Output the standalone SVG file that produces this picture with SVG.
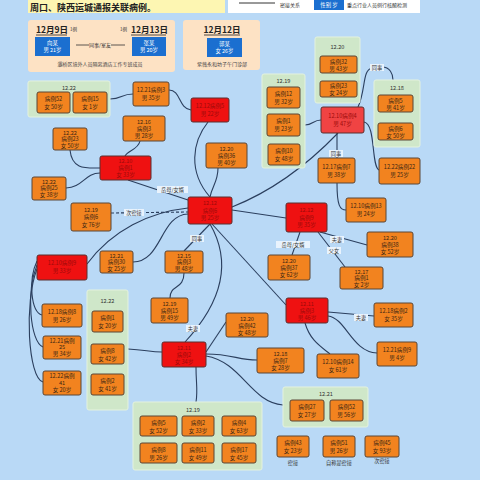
<svg xmlns="http://www.w3.org/2000/svg" width="480" height="480" viewBox="0 0 480 480">
<style>
text{font-family:"Noto Sans CJK SC","Noto Sans",sans-serif;}
.o{fill:#f2831f;stroke:#5b4636;stroke-width:1;}
.r{fill:#ef1111;stroke:#5b3030;stroke-width:1;}
.g{fill:#cfe7c9;stroke:#e4f2de;stroke-width:1;}
.b{fill:#1b6fd0;}
.t{font-size:5.6px;fill:#3a2614;text-anchor:middle;}
.tr{font-size:5.6px;fill:#9c0a0a;text-anchor:middle;}
.tw{font-size:5.4px;fill:#ffffff;text-anchor:middle;}
.gl{font-size:5.6px;fill:#333;text-anchor:middle;}
.e{fill:none;stroke:#2b3f5e;stroke-width:1.1;}
.lb{fill:#e9f3fd;}
.lt{font-size:5.2px;fill:#333;text-anchor:middle;}
.cap{font-size:5px;fill:#444;text-anchor:middle;}
.h{font-size:8.5px;font-weight:bold;fill:#222;}
</style>
<rect width="480" height="480" fill="#b9d9f6"/>
<!-- header -->
<g id="banner"><rect x="28" y="-3" width="197" height="16" fill="#fdf6b2"/><text x="30" y="10.5" style="font-size:9px;font-weight:bold;fill:#222">周口、陕西运城通报关联病例。</text></g>
<g id="legend"><rect x="228" y="-3" width="192" height="16" fill="#ffffff"/><line x1="239" y1="3" x2="275" y2="3" stroke="#333" stroke-width="1"/><text x="280" y="7" style="font-size:5px;fill:#333">密接关系</text><rect x="314" y="-3" width="30" height="13" class="b"/><text x="329" y="7" class="tw">性别 岁</text><text x="347" y="7" style="font-size:5px;fill:#333">重点行业人员例行核酸检测</text></g>
<g id="panel1"><rect x="28" y="20" width="147" height="52" rx="3" fill="#fde2c4"/>
<text x="36" y="33" class="h">12月9日</text><line x1="36" y1="35" x2="67" y2="35" stroke="#222" stroke-width="0.8"/><text x="70" y="31" style="font-size:4.5px;fill:#333">1例</text>
<text x="120" y="31" style="font-size:4.5px;fill:#333">1例</text><text x="131" y="33" class="h">12月13日</text><line x1="131" y1="35" x2="166" y2="35" stroke="#222" stroke-width="0.8"/>
<rect x="35" y="37" width="35" height="19" class="b"/><text x="52.5" y="45" class="tw">向某</text><text x="52.5" y="52" class="tw">男 21岁</text>
<rect x="132" y="37" width="34" height="19" class="b"/><text x="149" y="45" class="tw">张某</text><text x="149" y="52" class="tw">男 20岁</text>
<line x1="76" y1="45" x2="89" y2="45" stroke="#333" stroke-width="0.8"/><text x="100" y="47" class="lt" style="font-size:5px">同事/室友</text><line x1="111" y1="45" x2="125" y2="45" stroke="#333" stroke-width="0.8"/>
<text x="100" y="66" class="cap">灞桥区境外人员隔离酒店工作专班成员</text></g>
<g id="panel2"><rect x="183" y="20" width="77" height="50" rx="3" fill="#fde2c4"/>
<text x="222" y="33" class="h" text-anchor="middle">12月12日</text><line x1="204" y1="35" x2="240" y2="35" stroke="#222" stroke-width="0.8"/>
<rect x="207" y="38" width="35" height="19" class="b"/><text x="224.5" y="46" class="tw">郭某</text><text x="224.5" y="53" class="tw">女 26岁</text>
<text x="222" y="66" class="cap">紫薇永和坊子午门诊部</text></g>

<g id="edges">
<path class="e" d="M110,99 C122,99 121,94 133,94"/>
<path class="e" d="M169,90 C181,90 178,108 191,110"/>
<path class="e" d="M140,141 C138,150 128,150 125,156"/>
<path class="e" d="M70,150 C72,170 86,168 100,168"/>
<path class="e" d="M66,188 C82,188 85,173 100,173"/>
<path class="e" d="M208,122 C192,142 188,172 210,197"/>
<path class="e" d="M218,168 C218,182 212,186 210,197"/>
<path class="e" d="M128,180 L188,200"/>
<path class="e" d="M111,213 L188,212" stroke-dasharray="3,2"/>
<path class="e" d="M87,264 C112,230 150,212 188,208"/>
<path class="e" d="M133,262 C162,262 160,215 188,214"/>
<path class="e" d="M210,224 L184,251"/>
<path class="e" d="M210,224 C232,262 222,302 185,342"/>
<path class="e" d="M212,224 L286,305"/>
<path class="e" d="M232,210 L286,218"/>
<path class="e" d="M232,207 C275,190 312,160 338,133"/>
<path class="e" d="M305,125 C313,125 313,120 321,120"/>
<path class="e" d="M337,133 L337,158"/>
<path class="e" d="M337,183 C337,206 340,210 346,210"/>
<path class="e" d="M364,122 C376,124 371,166 379,170"/>
<path class="e" d="M358,107 C366,90 362,70 372,68"/>
<path class="e" d="M382,67 C390,67 393,74 393,80"/>
<path class="e" d="M320,232 L367,245"/>
<path class="e" d="M318,232 L345,267"/>
<path class="e" d="M300,232 L292,255"/>
<path class="e" d="M184,273 C184,290 170,284 170,298"/>
<path class="e" d="M206,352 L226,322"/>
<path class="e" d="M206,354 C232,354 238,360 257,360"/>
<path class="e" d="M206,356 C242,362 250,402 283,405"/>
<path class="e" d="M196,367 C196,384 198,390 196,402"/>
<path class="e" d="M128,349 C146,350 150,352 162,352"/>
<path class="e" d="M37,261 C28,280 31,312 42,315"/>
<path class="e" d="M37,265 C26,292 30,342 43,347"/>
<path class="e" d="M37,269 C24,302 28,378 43,382"/>
<path class="e" d="M305,323 C310,340 320,346 330,354"/>
<path class="e" d="M328,312 L374,316"/>
<path class="e" d="M328,316 C346,318 352,352 377,353"/>
<g id="edge-labels">
<rect x="157" y="186" width="31" height="7" class="lb"/><text x="172.5" y="191.5" class="lt">岳母/女婿</text>
<rect x="124" y="209" width="20" height="7" class="lb"/><text x="134" y="214.5" class="lt">次密接</text>
<rect x="190" y="235" width="14" height="7" class="lb"/><text x="197" y="240.5" class="lt">同事</text>
<rect x="186" y="325" width="14" height="7" class="lb"/><text x="193" y="330.5" class="lt">夫妻</text>
<rect x="329" y="150" width="14" height="7" class="lb"/><text x="336" y="155.5" class="lt">同事</text>
<rect x="370" y="64" width="14" height="7" class="lb"/><text x="377" y="69.5" class="lt">同事</text>
<rect x="276" y="241" width="34" height="7" class="lb"/><text x="293" y="246.5" class="lt">岳母/女婿</text>
<rect x="330" y="236" width="14" height="7" class="lb"/><text x="337" y="241.5" class="lt">夫妻</text>
<rect x="327" y="247" width="14" height="7" class="lb"/><text x="334" y="252.5" class="lt">父女</text>
<rect x="354" y="314" width="14" height="7" class="lb"/><text x="361" y="319.5" class="lt">夫妻</text>
</g>
</g>

<g id="g1222a"><rect x="28" y="81" width="82" height="36" rx="2" class="g"/><text x="69" y="90" class="gl">12.22</text>
<rect x="37" y="92" width="33" height="21" rx="2" class="o"/><text x="53.5" y="101" class="t">病例52</text><text x="53.5" y="109" class="t">女 50岁</text>
<rect x="73" y="92" width="34" height="21" rx="2" class="o"/><text x="90" y="101" class="t">病例15</text><text x="90" y="109" class="t">女 1岁</text></g>
<g id="n1221c3"><rect x="133" y="82" width="36" height="24" rx="2" class="o"/><text x="151" y="92" class="t">12.21病例3</text><text x="151" y="100" class="t">男 35岁</text></g>
<g id="n1222c23"><rect x="53" y="128" width="34" height="22" rx="2" class="o"/><text x="70" y="134.5" class="t">12.22</text><text x="70" y="141" class="t">病例23</text><text x="70" y="147.5" class="t">女 50岁</text></g>
<g id="n1216c3"><rect x="123" y="116" width="42" height="25" rx="2" class="o"/><text x="144" y="123.5" class="t">12.16</text><text x="144" y="130.5" class="t">病例3</text><text x="144" y="137.5" class="t">男 28岁</text></g>
<g id="rlu"><rect x="100" y="156" width="51" height="24" rx="2" class="r"/><text x="125.5" y="163" class="tr">12.10</text><text x="125.5" y="170" class="tr">病例1</text><text x="125.5" y="177" class="tr">女 33岁</text></g>
<g id="rtop"><rect x="191" y="98" width="38" height="24" rx="2" class="r"/><text x="210" y="108" class="tr">12.12病例5</text><text x="210" y="116" class="tr">男 22岁</text></g>
<g id="n1220c36"><rect x="206" y="143" width="41" height="25" rx="2" class="o"/><text x="226.5" y="150.5" class="t">12.20</text><text x="226.5" y="157.5" class="t">病例36</text><text x="226.5" y="164.5" class="t">男 40岁</text></g>
<g id="g1219a"><rect x="262" y="74" width="43" height="94" rx="2" class="g"/><text x="283.5" y="83" class="gl">12.19</text>
<rect x="267" y="87" width="33" height="21" rx="2" class="o"/><text x="283.5" y="96" class="t">病例12</text><text x="283.5" y="104" class="t">男 32岁</text>
<rect x="267" y="114" width="33" height="22" rx="2" class="o"/><text x="283.5" y="123" class="t">病例1</text><text x="283.5" y="131" class="t">男 23岁</text>
<rect x="268" y="144" width="32" height="21" rx="2" class="o"/><text x="284" y="153" class="t">病例10</text><text x="284" y="161" class="t">女 48岁</text></g>
<g id="g1220"><rect x="315" y="37" width="45" height="66" rx="2" class="g"/><text x="337.5" y="49" class="gl">12.20</text>
<rect x="320" y="56" width="37" height="17" rx="2" class="o"/><text x="338.5" y="63.5" class="t">病例32</text><text x="338.5" y="70.5" class="t">男 43岁</text>
<rect x="320" y="81" width="37" height="16" rx="2" class="o"/><text x="338.5" y="88" class="t">病例23</text><text x="338.5" y="95" class="t">女 24岁</text></g>
<g id="r4"><rect x="321" y="107" width="43" height="26" rx="2" fill="#f04343" stroke="#5b3030" stroke-width="1"/><text x="342.5" y="118" class="tr">12.10病例4</text><text x="342.5" y="126" class="tr">男 47岁</text></g>
<g id="g1218"><rect x="374" y="80" width="46" height="67" rx="2" class="g"/><text x="397" y="90" class="gl">12.18</text>
<rect x="378" y="95" width="35" height="17" rx="2" class="o"/><text x="395.5" y="102.5" class="t">病例5</text><text x="395.5" y="109.5" class="t">男 41岁</text>
<rect x="378" y="123" width="35" height="17" rx="2" class="o"/><text x="395.5" y="130.5" class="t">病例6</text><text x="395.5" y="137.5" class="t">女 50岁</text></g>
<g id="n1217c7"><rect x="318" y="158" width="37" height="25" rx="2" class="o"/><text x="336.5" y="168.5" class="t">12.17病例7</text><text x="336.5" y="176.5" class="t">男 38岁</text></g>
<g id="n1222c22"><rect x="379" y="158" width="41" height="26" rx="2" class="o"/><text x="399.5" y="168.5" class="t">12.22病例22</text><text x="399.5" y="176.5" class="t">男 25岁</text></g>
<g id="n1210c13"><rect x="346" y="198" width="40" height="24" rx="2" class="o"/><text x="366" y="208" class="t">12.10病例13</text><text x="366" y="216" class="t">男 24岁</text></g>
<g id="rcenter"><rect x="188" y="197" width="44" height="27" rx="2" class="r"/><text x="210" y="205" class="tr">12.12</text><text x="210" y="212.5" class="tr">病例6</text><text x="210" y="220" class="tr">男 25岁</text></g>
<g id="rright"><rect x="286" y="203" width="41" height="29" rx="2" class="r"/><text x="306.5" y="212" class="tr">12.12</text><text x="306.5" y="219.5" class="tr">病例9</text><text x="306.5" y="227" class="tr">男 35岁</text></g>
<g id="n1220c37"><rect x="268" y="255" width="42" height="25" rx="2" class="o"/><text x="289" y="262.5" class="t">12.20</text><text x="289" y="269.5" class="t">病例37</text><text x="289" y="276.5" class="t">女 62岁</text></g>
<g id="n1220c38"><rect x="367" y="232" width="46" height="25" rx="2" class="o"/><text x="390" y="239.5" class="t">12.20</text><text x="390" y="246.5" class="t">病例38</text><text x="390" y="253.5" class="t">女 52岁</text></g>
<g id="n1217c1"><rect x="340" y="267" width="43" height="22" rx="2" class="o"/><text x="361.5" y="273.5" class="t">12.17</text><text x="361.5" y="280" class="t">病例1</text><text x="361.5" y="286.5" class="t">女 2岁</text></g>
<g id="n1219c6"><rect x="71" y="203" width="40" height="28" rx="2" class="o"/><text x="91" y="211.5" class="t">12.19</text><text x="91" y="219" class="t">病例6</text><text x="91" y="226.5" class="t">女 76岁</text></g>
<g id="n1222c25"><rect x="32" y="177" width="34" height="23" rx="2" class="o"/><text x="49" y="183.5" class="t">12.22</text><text x="49" y="190" class="t">病例25</text><text x="49" y="197" class="t">女 38岁</text></g>
<g id="rleft"><rect x="37" y="255" width="50" height="25" rx="2" class="r"/><text x="62" y="265" class="tr">12.10病例9</text><text x="62" y="273" class="tr">男 33岁</text></g>
<g id="n1221c30"><rect x="100" y="251" width="33" height="22" rx="2" class="o"/><text x="116.5" y="257.5" class="t">12.21</text><text x="116.5" y="264" class="t">病例30</text><text x="116.5" y="270.5" class="t">女 25岁</text></g>
<g id="n1215c3"><rect x="165" y="251" width="38" height="22" rx="2" class="o"/><text x="184" y="257.5" class="t">12.15</text><text x="184" y="264" class="t">病例3</text><text x="184" y="270.5" class="t">男 48岁</text></g>
<g id="n1219c15"><rect x="151" y="298" width="37" height="25" rx="2" class="o"/><text x="169.5" y="305.5" class="t">12.19</text><text x="169.5" y="312.5" class="t">病例15</text><text x="169.5" y="319.5" class="t">男 49岁</text></g>
<g id="n1220c42"><rect x="226" y="313" width="42" height="24" rx="2" class="o"/><text x="247" y="320.5" class="t">12.20</text><text x="247" y="327.5" class="t">病例42</text><text x="247" y="334.5" class="t">女 48岁</text></g>
<g id="rbottom"><rect x="162" y="342" width="44" height="25" rx="2" class="r"/><text x="184" y="349.5" class="tr">12.11</text><text x="184" y="356.5" class="tr">病例2</text><text x="184" y="363.5" class="tr">女 34岁</text></g>
<g id="rrb"><rect x="286" y="298" width="42" height="25" rx="2" class="r"/><text x="307" y="305.5" class="tr">12.11</text><text x="307" y="312.5" class="tr">病例3</text><text x="307" y="319.5" class="tr">男 46岁</text></g>
<g id="n1218c7"><rect x="257" y="348" width="47" height="25" rx="2" class="o"/><text x="280.5" y="355.5" class="t">12.18</text><text x="280.5" y="362.5" class="t">病例7</text><text x="280.5" y="369.5" class="t">女 28岁</text></g>
<g id="n1210c14"><rect x="317" y="354" width="42" height="24" rx="2" class="o"/><text x="338" y="364" class="t">12.10病例14</text><text x="338" y="372" class="t">女 61岁</text></g>
<g id="n1218c2"><rect x="374" y="303" width="39" height="24" rx="2" class="o"/><text x="393.5" y="313" class="t">12.18病例2</text><text x="393.5" y="321" class="t">女 35岁</text></g>
<g id="n1221c9"><rect x="377" y="342" width="40" height="24" rx="2" class="o"/><text x="397" y="352" class="t">12.21病例9</text><text x="397" y="360" class="t">男 4岁</text></g>
<g id="g1222b"><rect x="87" y="290" width="41" height="120" rx="2" class="g"/><text x="107.5" y="303" class="gl">12.22</text>
<rect x="92" y="311" width="31" height="21" rx="2" class="o"/><text x="107.5" y="320" class="t">病例1</text><text x="107.5" y="328" class="t">女 20岁</text>
<rect x="91" y="344" width="33" height="20" rx="2" class="o"/><text x="107.5" y="352.5" class="t">病例8</text><text x="107.5" y="360.5" class="t">女 42岁</text>
<rect x="91" y="374" width="33" height="21" rx="2" class="o"/><text x="107.5" y="383" class="t">病例2</text><text x="107.5" y="391" class="t">女 41岁</text></g>
<g id="n1218c8"><rect x="42" y="304" width="40" height="23" rx="2" class="o"/><text x="62" y="313.5" class="t">12.18病例8</text><text x="62" y="321.5" class="t">男 26岁</text></g>
<g id="n1221c25"><rect x="43" y="336" width="38" height="23" rx="2" class="o"/><text x="62" y="342.5" class="t">12.21病例</text><text x="62" y="349" class="t">25</text><text x="62" y="356" class="t">男 34岁</text></g>
<g id="n1222c41"><rect x="43" y="371" width="38" height="24" rx="2" class="o"/><text x="62" y="378" class="t">12.22病例</text><text x="62" y="385" class="t">41</text><text x="62" y="392" class="t">女 20岁</text></g>
<g id="g1219b"><rect x="133" y="402" width="129" height="68" rx="2" class="g"/><text x="193" y="412" class="gl">12.19</text>
<rect x="140" y="416" width="37" height="20" rx="2" class="o"/><text x="158.5" y="424.5" class="t">病例5</text><text x="158.5" y="432.5" class="t">女 52岁</text>
<rect x="182" y="416" width="32" height="20" rx="2" class="o"/><text x="198" y="424.5" class="t">病例2</text><text x="198" y="432.5" class="t">女 33岁</text>
<rect x="222" y="416" width="34" height="20" rx="2" class="o"/><text x="239" y="424.5" class="t">病例4</text><text x="239" y="432.5" class="t">女 63岁</text>
<rect x="140" y="443" width="37" height="20" rx="2" class="o"/><text x="158.5" y="451.5" class="t">病例8</text><text x="158.5" y="459.5" class="t">男 26岁</text>
<rect x="182" y="443" width="32" height="20" rx="2" class="o"/><text x="198" y="451.5" class="t">病例11</text><text x="198" y="459.5" class="t">女 49岁</text>
<rect x="222" y="443" width="34" height="20" rx="2" class="o"/><text x="239" y="451.5" class="t">病例17</text><text x="239" y="459.5" class="t">女 45岁</text></g>
<g id="g1221"><rect x="283" y="387" width="85" height="40" rx="2" class="g"/><text x="326" y="396" class="gl">12.21</text>
<rect x="290" y="400" width="34" height="21" rx="2" class="o"/><text x="307" y="409" class="t">病例27</text><text x="307" y="417" class="t">女 27岁</text>
<rect x="330" y="400" width="33" height="21" rx="2" class="o"/><text x="346.5" y="409" class="t">病例52</text><text x="346.5" y="417" class="t">男 56岁</text></g>
<g id="n43"><rect x="277" y="436" width="32" height="21" rx="2" class="o"/><text x="293" y="445" class="t">病例43</text><text x="293" y="453" class="t">女 23岁</text><text x="293" y="465" class="lt">密接</text></g>
<g id="n51"><rect x="323" y="436" width="32" height="21" rx="2" class="o"/><text x="339" y="445" class="t">病例51</text><text x="339" y="453" class="t">男 26岁</text><text x="339" y="465" class="lt">自称是密接</text></g>
<g id="n45"><rect x="365" y="436" width="34" height="21" rx="2" class="o"/><text x="382" y="445" class="t">病例45</text><text x="382" y="453" class="t">女 93岁</text><text x="382" y="463" class="lt">次密接</text></g>
</svg>
